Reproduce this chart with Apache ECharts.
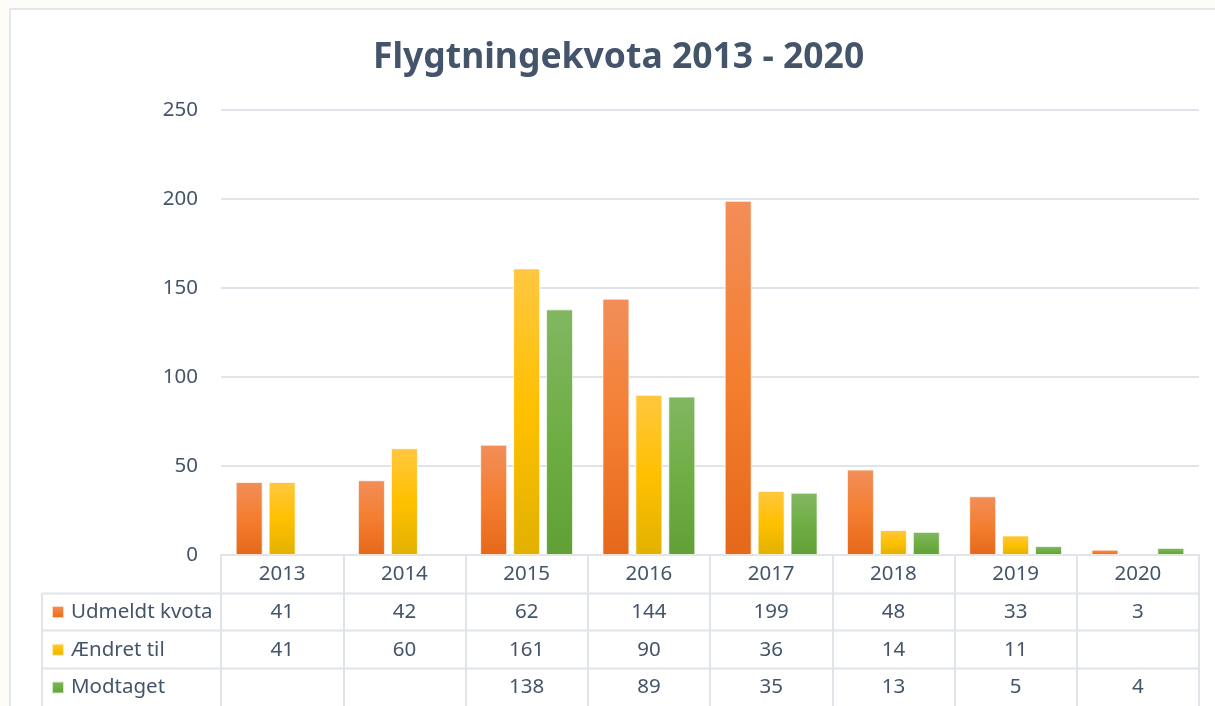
<!DOCTYPE html>
<html>
<head>
<meta charset="utf-8">
<script src="https://cdn.jsdelivr.net/npm/echarts@6/dist/echarts.min.js"></script>
<style>
  html, body { margin: 0; padding: 0; background: #fdfcf9; }
  #chart { width: 1215px; height: 706px; }
</style>
</head>
<body>
<div id="chart"></div>
<script>
// data
const years = ['2013', '2014', '2015', '2016', '2017', '2018', '2019', '2020']
const udmeldt = [41, 42, 62, 144, 199, 48, 33, 3]
const aendret = [41, 60, 161, 90, 36, 14, 11, null]
const modtaget = [null, null, 138, 89, 35, 13, 5, 4]
const seriesNames = ['Udmeldt kvota', 'Ændret til', 'Modtaget']
const yTicks = { min: 0, max: 250, interval: 50 }

// layout
const GRID_LEFT = 221
const GRID_RIGHT = 16
const AXIS_Y = 555
const ROW_H = 37.7
const TABLE_LEFT = 42
const TEXT = '#44546a'
const LINE = '#dfe3ea'
const FONT = 'Noto Sans'
const FS = 20.5

function grad(top, mid, bottom) {
  return new echarts.graphic.LinearGradient(0, 0, 0, 1, [
    { offset: 0, color: top },
    { offset: 0.5, color: mid },
    { offset: 1, color: bottom },
  ])
}

const colors = [
  grad('#f28e59', '#f47e30', '#e5681a'),
  grad('#ffc740', '#ffc000', '#e2b100'),
  grad('#82b762', '#6fae45', '#61a036'),
]

const rows = [udmeldt, aendret, modtaget]

const chart = echarts.init(document.getElementById('chart'), null, { renderer: 'canvas' })

const rightX = 1215 - GRID_RIGHT
const tableGraphics = []
// row separators across the legend column
for (let k = 1; k <= 3; k++) {
  const y = Math.round(AXIS_Y + ROW_H * k) + 0.5
  tableGraphics.push({
    type: 'line', z: 5,
    shape: { x1: TABLE_LEFT, y1: y, x2: rightX, y2: y },
    style: { stroke: LINE, lineWidth: 2 },
  })
}
tableGraphics.push({
  type: 'line', z: 5,
  shape: { x1: TABLE_LEFT, y1: Math.round(AXIS_Y + ROW_H), x2: TABLE_LEFT, y2: 706 },
  style: { stroke: LINE, lineWidth: 2 },
})
// chart frame
tableGraphics.push({
  type: 'rect', z: -10,
  shape: { x: 10, y: 9, width: 1300, height: 800 },
  style: { fill: '#ffffff', stroke: '#dadfe6', lineWidth: 1.5 },
})

const xAxes = [{
  type: 'category',
  data: years,
  position: 'bottom',
  gridIndex: 0,
  axisLine: { show: true, lineStyle: { color: LINE, width: 2 } },
  axisTick: { show: true, alignWithLabel: false, length: 151, lineStyle: { color: LINE, width: 2 } },
  axisLabel: { color: TEXT, fontSize: FS, fontFamily: FONT, margin: 9 },
}]
rows.forEach((row, r) => {
  xAxes.push({
    type: 'category',
    data: years,
    position: 'bottom',
    gridIndex: 0,
    offset: ROW_H * (r + 1),
    axisLine: { show: false },
    axisTick: { show: false },
    axisLabel: {
      color: TEXT, fontSize: FS, fontFamily: FONT, margin: 9,
      formatter: (v, i) => (row[i] == null ? '' : String(row[i])),
    },
  })
})

const legends = seriesNames.map((name, r) => ({
  data: [name],
  left: 51,
  top: AXIS_Y + ROW_H * (r + 1) + ROW_H / 2 - 10,
  padding: 0,
  icon: 'rect',
  itemWidth: 12,
  itemHeight: 12,
  selectedMode: false,
  textStyle: { color: TEXT, fontSize: FS, fontFamily: FONT, padding: [0, 0, 0, 2] },
}))

chart.setOption({
  animation: false,
  backgroundColor: 'transparent',
  textStyle: { fontFamily: FONT },
  title: {
    text: 'Flygtningekvota 2013 - 2020',
    left: 368,
    top: 35,
    textStyle: { color: TEXT, fontSize: 35.5, fontWeight: 'bold', fontFamily: FONT },
  },
  legend: legends,
  grid: { left: GRID_LEFT, right: GRID_RIGHT, top: 110, bottom: 706 - AXIS_Y, containLabel: false },
  xAxis: xAxes,
  yAxis: {
    type: 'value',
    min: yTicks.min,
    max: yTicks.max,
    interval: yTicks.interval,
    axisLine: { show: false },
    axisTick: { show: false },
    axisLabel: { color: TEXT, fontSize: FS, fontFamily: FONT, margin: 23 },
    splitLine: { lineStyle: { color: LINE, width: 2 } },
  },
  graphic: tableGraphics,
  series: rows.map((row, r) => ({
    name: seriesNames[r],
    type: 'bar',
    xAxisIndex: 0,
    data: row,
    barWidth: 27,
    barGap: '22%',
    itemStyle: { color: colors[r], borderColor: 'rgba(255,255,255,0.7)', borderWidth: 1 },
  })),
})
</script>
</body>
</html>
